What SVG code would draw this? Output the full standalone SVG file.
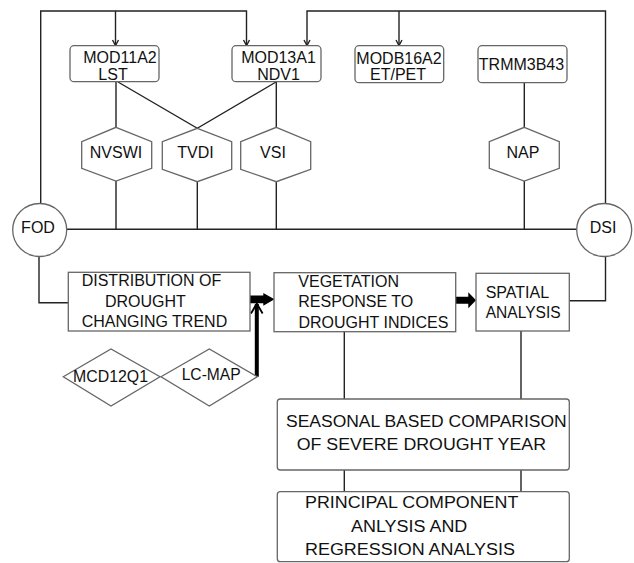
<svg xmlns="http://www.w3.org/2000/svg" width="634" height="563" viewBox="0 0 634 563">
<style>
.bg{fill:#fff}
.box{fill:#fff;stroke:#666;stroke-width:1.3}
.ln{fill:none;stroke:#222;stroke-width:1.4}
.t{font-family:"Liberation Sans",Arial,sans-serif;font-size:16px;fill:#111}
.m{text-anchor:middle}
</style>
<defs>
<marker id="chev" viewBox="0 0 10 10" refX="5" refY="9" markerWidth="8" markerHeight="8" markerUnits="userSpaceOnUse" orient="auto-start-reverse">
<path d="M1,4 L5,9 L9,4" fill="none" stroke="#222" stroke-width="1.4"/>
</marker>
</defs>
<rect class="bg" width="634" height="563"/>
<g id="connectors">
<path class="ln" d="M40.7,203 V11 H246.5 V45.5"/>
<path class="ln" d="M115.5,11 V45.5"/>
<path class="ln" d="M307,45.5 V11 H605.5 V203"/>
<path class="ln" d="M399,11 V45.5"/>
<path class="ln" d="M116,82 V127.3"/>
<path class="ln" d="M118,82 L197.3,128.3 L276,82"/>
<path class="ln" d="M276.3,82 V127.3"/>
<path class="ln" d="M524.3,82.7 V127.3"/>
<path class="ln" d="M116,181 V229.3 M197.3,181.7 V229.3 M276.3,181.7 V229.3 M524.3,181 V229.3"/>
<path class="ln" d="M67,229.3 H576.7"/>
<path class="ln" d="M39,257 V302.7 H68.3"/>
<path class="ln" d="M569.3,300.7 H605.5 V257"/>
<path class="ln" d="M344.3,331.7 V399 M521,331 V399"/>
<path class="ln" d="M344.3,470 V491.7 M521,470 V491.7"/>
<path d="M250,295.5 H263.3 V293 L274.5,299.3 L263.3,305.8 V303.3 H250 Z" fill="#000"/>
<path d="M455.7,296.7 H468.3 V292.3 L476,300.2 L468.3,308.3 V303.7 H455.7 Z" fill="#000"/>
<path d="M256.8,376.7 V304" fill="none" stroke="#000" stroke-width="4"/>
<path d="M251,313.5 L256.8,303.5 L262.6,313.5" fill="none" stroke="#000" stroke-width="1.8"/>
<path d="M112.5,40 L115.5,45.5 L118.5,40 M243.5,40 L246.5,45.5 L249.5,40 M304,40 L307,45.5 L310,40 M396,40 L399,45.5 L402,40" fill="none" stroke="#222" stroke-width="1.4"/>
</g>
<g id="mod11a2">
<rect class="box" x="70" y="45.7" width="89" height="36" rx="4"/>
<text class="t m" x="120" y="63">MOD11A2</text>
<text class="t m" x="113" y="80">LST</text>
</g>
<g id="mod13a1">
<rect class="box" x="232" y="45.7" width="89" height="36" rx="4"/>
<text class="t m" x="278.5" y="63">MOD13A1</text>
<text class="t m" x="278.5" y="80">NDV1</text>
</g>
<g id="modb16a2">
<rect class="box" x="355" y="45.7" width="88.7" height="37" rx="4"/>
<text class="t m" x="399" y="64">MODB16A2</text>
<text class="t m" x="398" y="80">ET/PET</text>
</g>
<g id="trmm3b43">
<rect class="box" x="478" y="45.7" width="89" height="37" rx="4"/>
<text class="t m" x="521.5" y="70">TRMM3B43</text>
</g>
<g id="nvswi">
<polygon class="box" points="116,127.3 151.7,141.7 151.7,168.3 116,181 81.7,168.3 81.7,141.7"/>
<text class="t m" x="116" y="158">NVSWI</text>
</g>
<g id="tvdi">
<polygon class="box" points="197.3,128.3 231.7,141.7 231.7,169.3 197.3,181.7 162.3,169.3 162.3,141.7"/>
<text class="t m" x="195.5" y="158">TVDI</text>
</g>
<g id="vsi">
<polygon class="box" points="276.3,127.3 310.7,141.7 310.7,169.3 276.3,181.7 240.7,169.3 240.7,141.7"/>
<text class="t m" x="273" y="158">VSI</text>
</g>
<g id="nap">
<polygon class="box" points="524.3,127.3 559.3,141.7 559.3,168.3 524.3,181 489.3,168.3 489.3,141.7"/>
<text class="t m" x="523" y="158.3">NAP</text>
</g>
<g id="fod">
<ellipse class="box" cx="39.7" cy="230" rx="27" ry="26.5"/>
<text class="t m" x="38" y="232.5">FOD</text>
</g>
<g id="dsi">
<ellipse class="box" cx="604.2" cy="230" rx="27.5" ry="26.5"/>
<text class="t m" x="603" y="232.7">DSI</text>
</g>
<g id="distribution">
<rect class="box" x="68.3" y="272.3" width="181.7" height="58.7"/>
<text class="t" x="81.7" y="286">DISTRIBUTION OF</text>
<text class="t" x="105" y="306.7">DROUGHT</text>
<text class="t" x="81.7" y="327.3">CHANGING TREND</text>
</g>
<g id="vegetation">
<rect class="box" x="274" y="272.7" width="181.7" height="59"/>
<text class="t" x="298.3" y="286.7">VEGETATION</text>
<text class="t" x="298.3" y="307.3">RESPONSE TO</text>
<text class="t" x="298.5" y="328.3">DROUGHT INDICES</text>
</g>
<g id="spatial">
<rect class="box" x="476" y="273.3" width="93.3" height="57.7"/>
<text class="t" x="485.7" y="297.7">SPATIAL</text>
<text class="t" x="485.7" y="318.3" textLength="75" lengthAdjust="spacingAndGlyphs">ANALYSIS</text>
</g>
<g id="mcd12q1">
<polygon class="box" points="63.3,376.7 111,349 160,376.7 111,406"/>
<text class="t" x="73" y="381.7" textLength="75" lengthAdjust="spacingAndGlyphs">MCD12Q1</text>
</g>
<g id="lcmap">
<polygon class="box" points="161,376.7 209.3,349 257.3,376.7 209.3,406"/>
<text class="t" x="181.7" y="380" textLength="59" lengthAdjust="spacingAndGlyphs">LC-MAP</text>
</g>
<g id="seasonal">
<rect class="box" x="277.3" y="399" width="292" height="71" rx="3"/>
<text class="t" x="286" y="426.7" textLength="280.7" lengthAdjust="spacingAndGlyphs">SEASONAL BASED COMPARISON</text>
<text class="t" x="296.7" y="450" textLength="249.3" lengthAdjust="spacingAndGlyphs">OF SEVERE DROUGHT YEAR</text>
</g>
<g id="principal">
<rect class="box" x="277.3" y="491.7" width="292" height="70" rx="3"/>
<text class="t" x="305" y="508.3" textLength="213.3" lengthAdjust="spacingAndGlyphs">PRINCIPAL COMPONENT</text>
<text class="t" x="351" y="531.7" textLength="116.3" lengthAdjust="spacingAndGlyphs">ANLYSIS AND</text>
<text class="t" x="305" y="555" textLength="210" lengthAdjust="spacingAndGlyphs">REGRESSION ANALYSIS</text>
</g>
</svg>
